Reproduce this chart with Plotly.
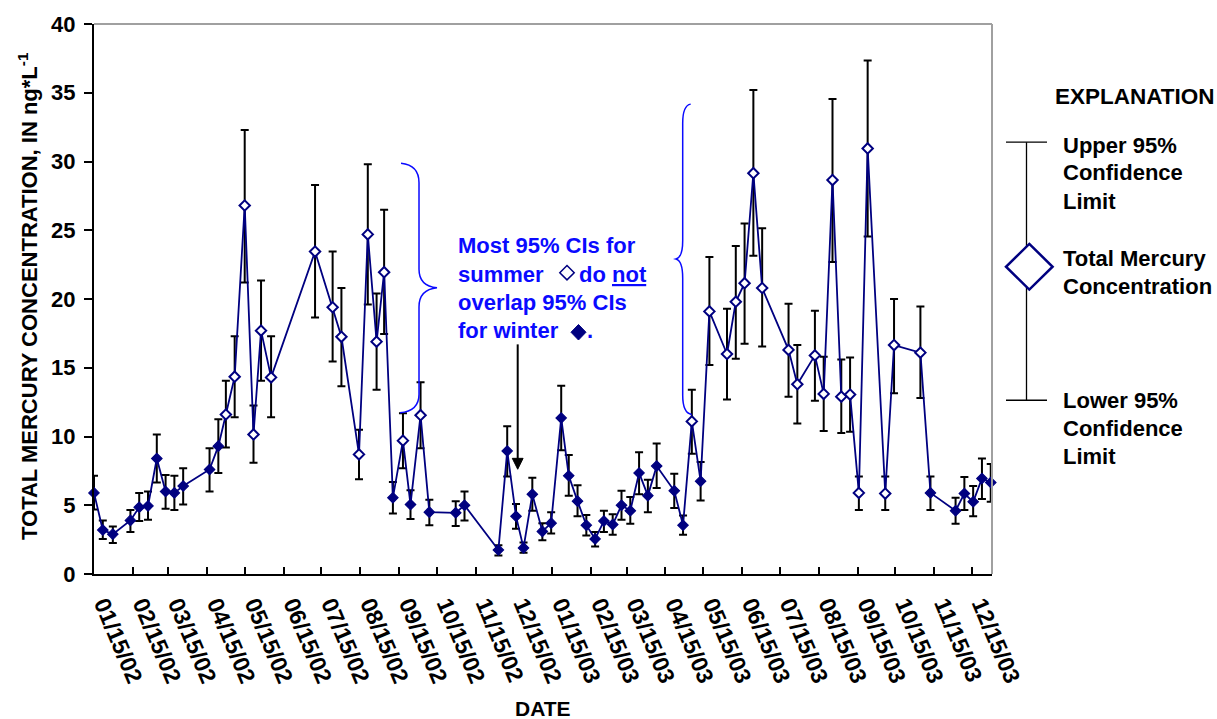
import plotly.graph_objects as go

# ---------------- data ----------------
dates = [
    "2002-01-15", "2002-01-22", "2002-01-30", "2002-02-13", "2002-02-20", "2002-02-27",
    "2002-03-06", "2002-03-13", "2002-03-20", "2002-03-27", "2002-04-17", "2002-04-24",
    "2002-04-30", "2002-05-07", "2002-05-15", "2002-05-22", "2002-05-28", "2002-06-05",
    "2002-07-10", "2002-07-24", "2002-07-31", "2002-08-14", "2002-08-21", "2002-08-28",
    "2002-09-03", "2002-09-10", "2002-09-18", "2002-09-24", "2002-10-02", "2002-10-09",
    "2002-10-30", "2002-11-06", "2002-12-03", "2002-12-10", "2002-12-17", "2002-12-23",
    "2002-12-30", "2003-01-07", "2003-01-14", "2003-01-22", "2003-01-28", "2003-02-04",
    "2003-02-11", "2003-02-18", "2003-02-25", "2003-03-04", "2003-03-11", "2003-03-18",
    "2003-03-25", "2003-04-01", "2003-04-08", "2003-04-22", "2003-04-29", "2003-05-06",
    "2003-05-13", "2003-05-20", "2003-06-03", "2003-06-10", "2003-06-17", "2003-06-24",
    "2003-07-01", "2003-07-22", "2003-07-29", "2003-08-12", "2003-08-19", "2003-08-26",
    "2003-09-02", "2003-09-09", "2003-09-16", "2003-09-23", "2003-10-07", "2003-10-14",
    "2003-11-04", "2003-11-12", "2003-12-02", "2003-12-09", "2003-12-16", "2003-12-23",
    "2003-12-30",
]
conc = [
    5.9, 3.2, 2.9, 3.9, 4.85, 4.95,
    8.4, 6.0, 5.9, 6.4, 7.6, 9.3,
    11.6, 14.35, 26.8, 10.15, 17.7, 14.3,
    23.45, 19.4, 17.25, 8.7, 24.7, 16.9,
    21.95, 5.55, 9.7, 5.05, 11.55, 4.5,
    4.45, 5.0, 1.75, 8.95, 4.2, 1.9,
    5.8, 3.1, 3.7, 11.35, 7.15, 5.3,
    3.55, 2.55, 3.85, 3.6, 5.0, 4.6,
    7.35, 5.7, 7.85, 6.05, 3.55, 11.1,
    6.75, 19.1, 16.0, 19.8, 21.15, 29.15,
    20.8, 16.3, 13.8, 15.9, 13.1, 28.65,
    12.9, 13.05, 5.9, 30.95, 5.85, 16.65,
    16.1, 5.9, 4.6, 5.85, 5.25, 6.95,
    6.65,
]
upper95 = [
    7.15, 3.9, 3.45, 4.65, 5.9, 6.0,
    10.15, 7.2, 7.15, 7.7, 9.15, 11.25,
    14.05, 17.3, 32.3, 12.25, 21.35, 17.3,
    28.3, 23.45, 20.8, 10.5, 29.8, 20.4,
    26.5, 6.7, 11.7, 6.1, 13.95, 5.4,
    5.3, 6.0, 2.1, 10.75, 5.1, 2.3,
    7.0, 3.7, 4.5, 13.7, 8.65, 6.45,
    4.3, 3.05, 4.6, 4.35, 6.05, 5.6,
    8.85, 6.85, 9.5, 7.3, 4.25, 13.4,
    8.15, 23.05, 19.3, 23.85, 25.5, 35.2,
    25.15, 19.65, 16.65, 19.15, 15.8, 34.55,
    15.6, 15.75, 7.1, 37.35, 7.1, 20.0,
    19.45, 7.1, 5.55, 7.05, 6.4, 8.4,
    8.0,
]
lower95 = [
    4.7, 2.55, 2.25, 3.05, 3.85, 3.95,
    6.65, 4.75, 4.65, 5.05, 6.0, 7.35,
    9.2, 11.4, 21.2, 8.1, 14.05, 11.4,
    18.65, 15.45, 13.65, 6.9, 19.6, 13.4,
    17.45, 4.4, 7.7, 4.0, 9.15, 3.55,
    3.5, 3.9, 1.35, 7.1, 3.3, 1.55,
    4.6, 2.45, 2.95, 9.0, 5.7, 4.2,
    2.8, 2.0, 3.05, 2.85, 3.95, 3.65,
    5.8, 4.5, 6.25, 4.8, 2.85, 8.75,
    5.35, 15.2, 12.7, 15.65, 16.75, 23.15,
    16.55, 12.9, 10.95, 12.6, 10.4, 22.7,
    10.25, 10.35, 4.65, 24.55, 4.65, 13.15,
    12.8, 4.65, 3.65, 4.65, 4.2, 5.45,
    5.25,
]
# W = winter (filled diamond), S = summer (open diamond)
season = [
    "W", "W", "W", "W", "W", "W",
    "W", "W", "W", "W", "W", "W",
    "S", "S", "S", "S", "S", "S",
    "S", "S", "S", "S", "S", "S",
    "S", "W", "S", "W", "S", "W",
    "W", "W", "W", "W", "W", "W",
    "W", "W", "W", "W", "W", "W",
    "W", "W", "W", "W", "W", "W",
    "W", "W", "W", "W", "W", "S",
    "W", "S", "S", "S", "S", "S",
    "S", "S", "S", "S", "S", "S",
    "S", "S", "S", "S", "S", "S",
    "S", "W", "W", "W", "W", "W",
    "W",
]
tick_dates = [
    "2002-01-15", "2002-02-15", "2002-03-15", "2002-04-15", "2002-05-15", "2002-06-15",
    "2002-07-15", "2002-08-15", "2002-09-15", "2002-10-15", "2002-11-15", "2002-12-15",
    "2003-01-15", "2003-02-15", "2003-03-15", "2003-04-15", "2003-05-15", "2003-06-15",
    "2003-07-15", "2003-08-15", "2003-09-15", "2003-10-15", "2003-11-15", "2003-12-15",
]
tick_labels = [
    "01/15/02", "02/15/02", "03/15/02", "04/15/02", "05/15/02", "06/15/02",
    "07/15/02", "08/15/02", "09/15/02", "10/15/02", "11/15/02", "12/15/02",
    "01/15/03", "02/15/03", "03/15/03", "04/15/03", "05/15/03", "06/15/03",
    "07/15/03", "08/15/03", "09/15/03", "10/15/03", "11/15/03", "12/15/03",
]
y_ticks = [0, 5, 10, 15, 20, 25, 30, 35, 40]

# ---------------- styling ----------------
W, H = 1217, 719
L, R, T, B = 94, 992, 20, 574
NAVY = "#000080"
BLUE = "#0a0aff"
FONT = "Liberation Sans, Arial, Helvetica, sans-serif"


def px(x):
    return (x - L) / (R - L)


def py(y):
    return (B - y) / (B - T)


def path(cmds):
    out = []
    for c in cmds:
        if isinstance(c, str):
            out.append(c)
        else:
            out.append(f"{px(c[0]):.5f},{py(c[1]):.5f}")
    return " ".join(out)


fill_colors = [NAVY if s == "W" else "white" for s in season]
line_widths = [1.2 if s == "W" else 2.0 for s in season]
err_plus = [u - v for u, v in zip(upper95, conc)]
err_minus = [v - lo for v, lo in zip(conc, lower95)]

fig = go.Figure()
fig.add_trace(go.Scatter(
    x=dates, y=conc, mode="lines+markers",
    line=dict(color=NAVY, width=1.8),
    marker=dict(symbol="diamond", size=8, color=fill_colors,
                line=dict(color=NAVY, width=line_widths)),
    error_y=dict(type="data", array=err_plus, arrayminus=err_minus,
                 color="black", thickness=2, width=4),
    cliponaxis=False, showlegend=False,
))

shapes = []
# grey top/right frame
shapes.append(dict(type="line", xref="paper", yref="paper", x0=0, x1=1, y0=1, y1=1,
                   line=dict(color="#a0a0a0", width=2)))
shapes.append(dict(type="line", xref="paper", yref="paper", x0=1, x1=1, y0=0, y1=1,
                   line=dict(color="#a0a0a0", width=2)))

# braces
brace1 = path(["M", (401, 160.3), "Q", (419, 162), (419, 180), "L", (419, 267),
               "Q", (419, 284), (437, 285.7), "Q", (419, 287.5), (419, 305),
               "L", (419, 393), "Q", (419, 410), (400, 411.7)])
brace2 = path(["M", (690.7, 100.7), "Q", (682.7, 102), (682.7, 120), "L", (682.7, 238),
               "Q", (682.7, 255), (676, 256.7), "Q", (682.7, 258.5), (682.7, 276),
               "L", (682.7, 394), "Q", (682.7, 412), (691.7, 413.3)])
for p in (brace1, brace2):
    shapes.append(dict(type="path", xref="paper", yref="paper", path=p,
                       line=dict(color=BLUE, width=1.5)))

# arrow
shapes.append(dict(type="line", xref="paper", yref="paper",
                   x0=px(517.7), x1=px(517.7), y0=py(342.7), y1=py(460),
                   line=dict(color="black", width=2)))
shapes.append(dict(type="path", xref="paper", yref="paper",
                   path=path(["M", (512.3, 457.5), "L", (523.1, 457.5), "L", (517.7, 468.5), "Z"]),
                   fillcolor="black", line=dict(color="black", width=1)))

# diamonds inside annotation text
shapes.append(dict(type="path", xref="paper", yref="paper",
                   path=path(["M", (567, 263.3), "L", (574.2, 270.5), "L", (567, 277.7),
                              "L", (559.8, 270.5), "Z"]),
                   fillcolor="white", line=dict(color=NAVY, width=1.5)))
shapes.append(dict(type="path", xref="paper", yref="paper",
                   path=path(["M", (578.5, 322.7), "L", (586, 330.5), "L", (578.5, 338.3),
                              "L", (571, 330.5), "Z"]),
                   fillcolor=NAVY, line=dict(color=NAVY, width=1)))

# legend symbol
shapes.append(dict(type="line", xref="paper", yref="paper",
                   x0=px(1026.5), x1=px(1026.5), y0=py(139), y1=py(399),
                   line=dict(color="black", width=1.3)))
for yy in (139, 399):
    shapes.append(dict(type="line", xref="paper", yref="paper",
                       x0=px(1006), x1=px(1047), y0=py(yy), y1=py(yy),
                       line=dict(color="black", width=1.3)))
shapes.append(dict(type="path", xref="paper", yref="paper",
                   path=path(["M", (1029.3, 241.5), "L", (1052.6, 264.5), "L", (1029.3, 287.5),
                              "L", (1006, 264.5), "Z"]),
                   fillcolor="white", line=dict(color=NAVY, width=2.5)))

annotations = []


def txt(text, x, y, size=22, color="black", xanchor="left", **kw):
    annotations.append(dict(text=text, x=px(x), y=py(y), xref="paper", yref="paper",
                            xanchor=xanchor, yanchor="middle", showarrow=False,
                            font=dict(family=FONT, size=size, color=color, weight="bold"),
                            **kw))


# y-axis title and x-axis title
txt("TOTAL MERCURY CONCENTRATION, IN ng*L<sup>-1</sup>", 28, 294, size=22,
    xanchor="center", textangle=-90)
txt("DATE", 543, 709, size=21, xanchor="center")

# blue annotation
txt("Most 95% CIs for", 456, 242.8, color=BLUE)
txt("summer", 456, 272.0, color=BLUE)
txt("do <u>not</u>", 577, 272.0, color=BLUE)
txt("overlap 95% CIs", 456, 300.3, color=BLUE)
txt("for winter", 456, 328.7, color=BLUE)
txt(".", 585, 328.7, color=BLUE)

# explanation
txt("EXPLANATION", 1053, 92.8, size=22.5)
txt("Upper 95%", 1061, 142)
txt("Confidence", 1061, 170)
txt("Limit", 1061, 198.3)
txt("Total Mercury", 1061, 256)
txt("Concentration", 1061, 284.3)
txt("Lower 95%", 1061, 399)
txt("Confidence", 1061, 427.3)
txt("Limit", 1061, 455.3)

fig.update_layout(
    width=W, height=H,
    margin=dict(l=L, r=W - R, t=T, b=H - B, pad=0),
    paper_bgcolor="white", plot_bgcolor="white",
    font=dict(family=FONT, color="black"),
    shapes=shapes, annotations=annotations,
    xaxis=dict(
        type="date", range=["2002-01-15", "2003-12-31"],
        tickmode="array", tickvals=tick_dates, ticktext=tick_labels,
        tickangle=67, ticks="inside", ticklen=7, tickwidth=1.5, tickcolor="black",
        showline=True, linecolor="black", linewidth=2, showgrid=False, zeroline=False,
        tickfont=dict(family=FONT, size=23, color="black", weight="bold"),
        ticklabelstandoff=6, ticklabelshift=10,
    ),
    yaxis=dict(
        range=[0, 40], tickmode="array", tickvals=y_ticks,
        ticks="outside", ticklen=8, tickwidth=1.5, tickcolor="black",
        showline=True, linecolor="black", linewidth=2, showgrid=False, zeroline=False,
        tickfont=dict(family=FONT, size=22, color="black", weight="bold"),
        ticklabelstandoff=4,
    ),
)

fig.write_html("out.html")
